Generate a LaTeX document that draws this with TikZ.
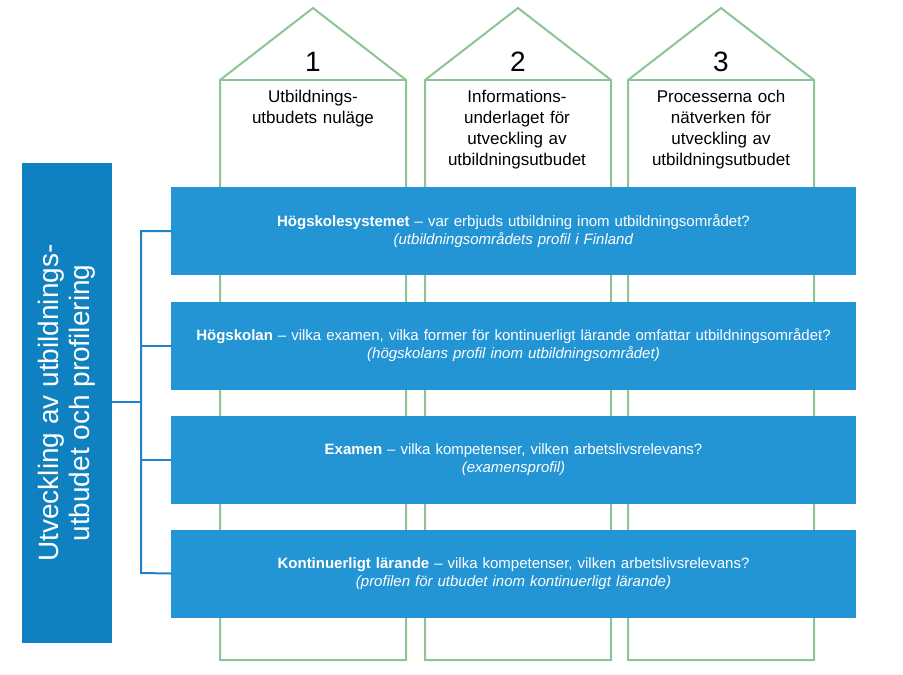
\documentclass[tikz,border=0pt]{standalone}
\usepackage{fontspec}
\setmainfont{Liberation Sans}
\begin{document}
\begin{tikzpicture}[x=1pt,y=-1pt,
  house/.style={draw=green!45!gray!80!white, line width=2pt, color={rgb,255:red,140;green,196;blue,150}},
  bar/.style={fill={rgb,255:red,35;green,148;blue,212}, draw=none, minimum width=685pt, minimum height=88pt, text width=640pt, align=center, text=white, font=\fontsize{15}{18}\selectfont},
  conn/.style={draw={rgb,255:red,30;green,130;blue,200}, line width=2pt},
  num/.style={font=\fontsize{28}{30}\selectfont},
  htxt/.style={font=\fontsize{17}{21}\selectfont, align=center, text width=180pt}]
\useasboundingbox (0,0) rectangle (903,675);
\foreach \l/\n in {220/1,425/2,628/3}{
  \draw[house] (\l,660) -- (\l,80) -- (\l+93,8) -- (\l+186,80) -- (\l+186,660) -- cycle;
  \draw[house] (\l,80) -- (\l+186,80);
  \node[num] (n\n) at (\l+93,62) {\n};
}
\node[htxt, anchor=north] (t1) at (313,87) {Utbildnings-\\utbudets nuläge};
\node[htxt, anchor=north] (t2) at (517,87) {Informations-\\underlaget för\\utveckling av\\utbildningsutbudet};
\node[htxt, anchor=north] (t3) at (721,87) {Processerna och\\nätverken för\\utveckling av\\utbildningsutbudet};
\node[bar] (b1) at (513.5,231) {\textbf{Högskolesystemet} – var erbjuds utbildning inom utbildningsområdet?\\ \textit{(utbildningsområdets profil i Finland}\\[8pt]};
\node[bar] (b2) at (513.5,345.5) {\textbf{Högskolan} – vilka examen, vilka former för kontinuerligt lärande omfattar utbildningsområdet?\\ \textit{(högskolans profil inom utbildningsområdet)}};
\node[bar] (b3) at (513.5,459.5) {\textbf{Examen} – vilka kompetenser, vilken arbetslivsrelevans?\\ \textit{(examensprofil)}\\[8pt]};
\node[bar] (b4) at (513.5,573.5) {\textbf{Kontinuerligt lärande} – vilka kompetenser, vilken arbetslivsrelevans?\\ \textit{(profilen för utbudet inom kontinuerligt lärande)}\\[8pt]};
\node[fill={rgb,255:red,15;green,128;blue,192}, minimum width=90pt, minimum height=480pt, inner sep=0pt] (L) at (67,403) {};
\node[rotate=90, text=white, align=center, font=\fontsize{28}{31}\selectfont] (Lt) at (L.center) {Utveckling av utbildnings-\\utbudet och profilering};
\coordinate (j) at (141,402);
\draw[conn] (L.east |- j) -- (j);
\draw[conn] (b1.west) -| (141,573) -- (b4.west);
\draw[conn] (141,345.5) -- (b2.west);
\draw[conn] (141,459.5) -- (b3.west);
\end{tikzpicture}
\end{document}
